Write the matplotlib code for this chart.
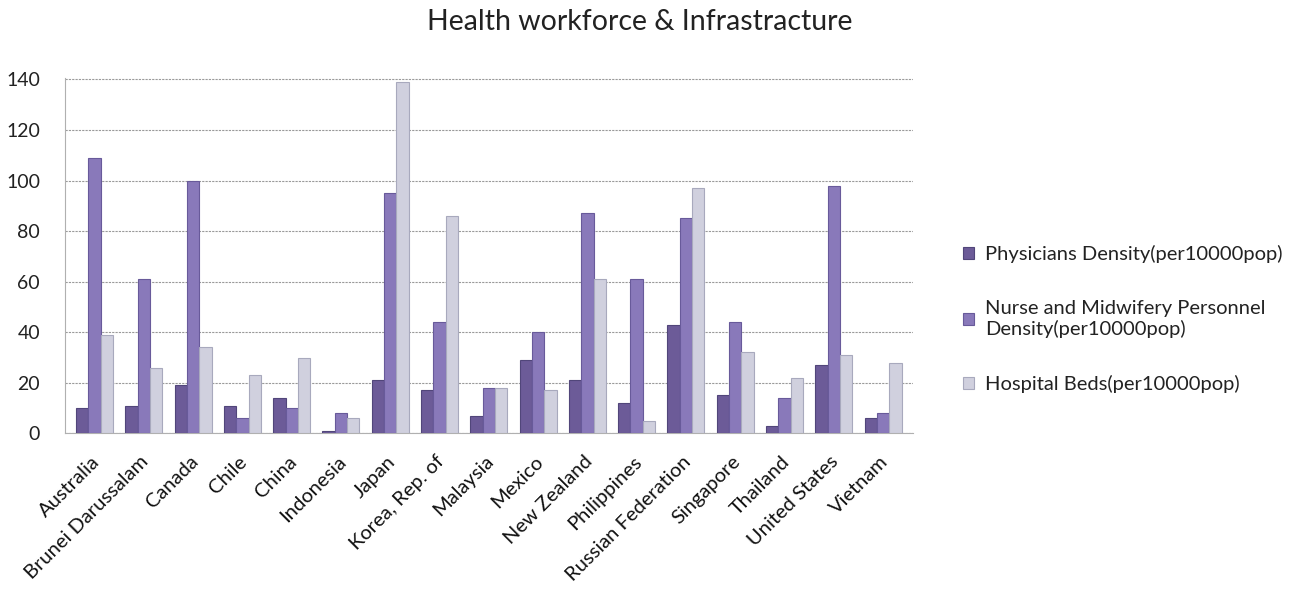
import numpy as np
import matplotlib
matplotlib.use("Agg")
import matplotlib.pyplot as plt

countries = ["Australia", "Brunei Darussalam", "Canada", "Chile", "China", "Indonesia",
             "Japan", "Korea, Rep. of", "Malaysia", "Mexico", "New Zealand", "Philippines",
             "Russian Federation", "Singapore", "Thailand", "United States", "Vietnam"]
physicians = [10, 11, 19, 11, 14, 1, 21, 17, 7, 29, 21, 12, 43, 15, 3, 27, 6]
nurses = [109, 61, 100, 6, 10, 8, 95, 44, 18, 40, 87, 61, 85, 44, 14, 98, 8]
beds = [39, 26, 34, 23, 30, 6, 139, 86, 18, 17, 61, 5, 97, 32, 22, 31, 28]

series_names = ["Physicians Density(per10000pop)",
                "Nurse and Midwifery Personnel\nDensity(per10000pop)",
                "Hospital Beds(per10000pop)"]
colors = ["#6c5b98", "#8979ba", "#d0d0de"]
edges = ["#51467a", "#685a9a", "#a8a9bd"]

plt.rcParams["font.family"] = ["Lato", "DejaVu Sans"]

fig = plt.figure(figsize=(13, 5.92), dpi=100)
ax = fig.add_axes([0.05, 0.268, 0.652, 0.6])

x = np.arange(len(countries))
w = 0.25
for i, (vals, c, e, name) in enumerate(zip([physicians, nurses, beds], colors, edges, series_names)):
    ax.bar(x + (i - 1) * w, vals, width=w, color=c, edgecolor=e, linewidth=0.8,
           label=name, zorder=3 + i)

ax.set_ylim(0, 140.5)
ax.set_xlim(-0.6, len(countries) - 0.4)
ax.set_yticks(range(0, 141, 20))
ax.yaxis.grid(True, color="#9a9a9a", linestyle=(0, (2, 1)), linewidth=0.8, zorder=0)
for s in ["top", "right"]:
    ax.spines[s].set_visible(False)
ax.spines["left"].set_color("#b0b0b0")
ax.spines["left"].set_linestyle((0, (2, 1)))
ax.spines["bottom"].set_color("#b0b0b0")
ax.tick_params(axis="y", length=0, pad=18, labelsize=14, labelcolor="#222222")
ax.tick_params(axis="x", length=0, pad=14)
ax.set_xticks(x - 0.08)
ax.set_xticklabels(countries, rotation=45, ha="right", rotation_mode="anchor",
                   fontsize=14.5, color="#111111")

fig.text(0.492, 0.962, "Health workforce & Infrastracture", ha="center", va="center",
         fontsize=20.5, color="#222222")

leg = fig.legend(loc="center left", bbox_to_anchor=(0.727, 0.461), frameon=False,
                 fontsize=14.5, labelspacing=1.85, handlelength=0.55, handleheight=0.55,
                 handletextpad=0.55, labelcolor="#222222")

fig.savefig("out.png", dpi=100)
